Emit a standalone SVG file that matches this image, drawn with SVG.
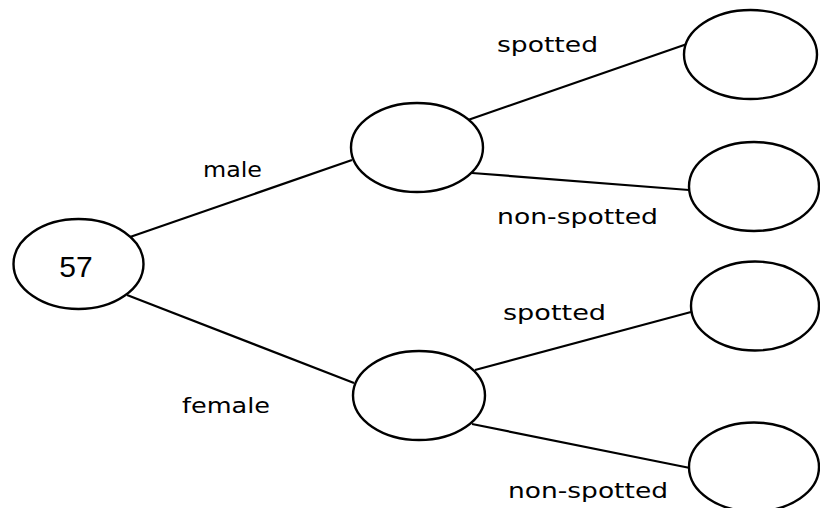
<svg xmlns="http://www.w3.org/2000/svg" width="820" height="508" viewBox="0 0 820 508">
<style>
.n{fill:#fff;stroke:#000;stroke-width:2.4}
.c{stroke:#000;stroke-width:2.2;fill:none}
.l{font-family:"DejaVu Sans",sans-serif;font-size:22px;fill:#000}
.v{font-family:"Liberation Sans",Arial,sans-serif;font-size:30px;fill:#000}
</style>
<rect width="820" height="508" fill="#fff"/>
<g id="connectors">
<line class="c" x1="130" y1="237" x2="352" y2="160"/>
<line class="c" x1="127" y1="295" x2="354" y2="383"/>
<line class="c" x1="468" y1="120" x2="687" y2="44"/>
<line class="c" x1="472" y1="173" x2="689" y2="190"/>
<line class="c" x1="475" y1="370" x2="691" y2="312"/>
<line class="c" x1="472" y1="424" x2="690" y2="468"/>
</g>
<g id="root"><ellipse class="n" cx="78.5" cy="264" rx="65" ry="45"/><text class="v" x="76" y="277" text-anchor="middle">57</text></g>
<g id="male"><ellipse class="n" cx="417" cy="147.5" rx="66" ry="44.5"/></g>
<g id="female"><ellipse class="n" cx="419" cy="395.5" rx="66" ry="44.5"/></g>
<g id="male-spotted"><ellipse class="n" cx="750.5" cy="54.5" rx="66.5" ry="44.5"/></g>
<g id="male-nonspotted"><ellipse class="n" cx="754" cy="186.5" rx="65" ry="44.5"/></g>
<g id="female-spotted"><ellipse class="n" cx="755" cy="306" rx="64" ry="44.5"/></g>
<g id="female-nonspotted"><ellipse class="n" cx="754" cy="467" rx="65" ry="44.5"/></g>
<g id="labels">
<text class="l" x="203" y="177" textLength="59" lengthAdjust="spacingAndGlyphs">male</text>
<text class="l" x="182" y="413" textLength="88" lengthAdjust="spacingAndGlyphs">female</text>
<text class="l" x="497" y="52" textLength="101" lengthAdjust="spacingAndGlyphs">spotted</text>
<text class="l" x="497" y="224" textLength="161" lengthAdjust="spacingAndGlyphs">non-spotted</text>
<text class="l" x="503" y="320" textLength="103" lengthAdjust="spacingAndGlyphs">spotted</text>
<text class="l" x="508" y="498" textLength="160" lengthAdjust="spacingAndGlyphs">non-spotted</text>
</g>
</svg>
